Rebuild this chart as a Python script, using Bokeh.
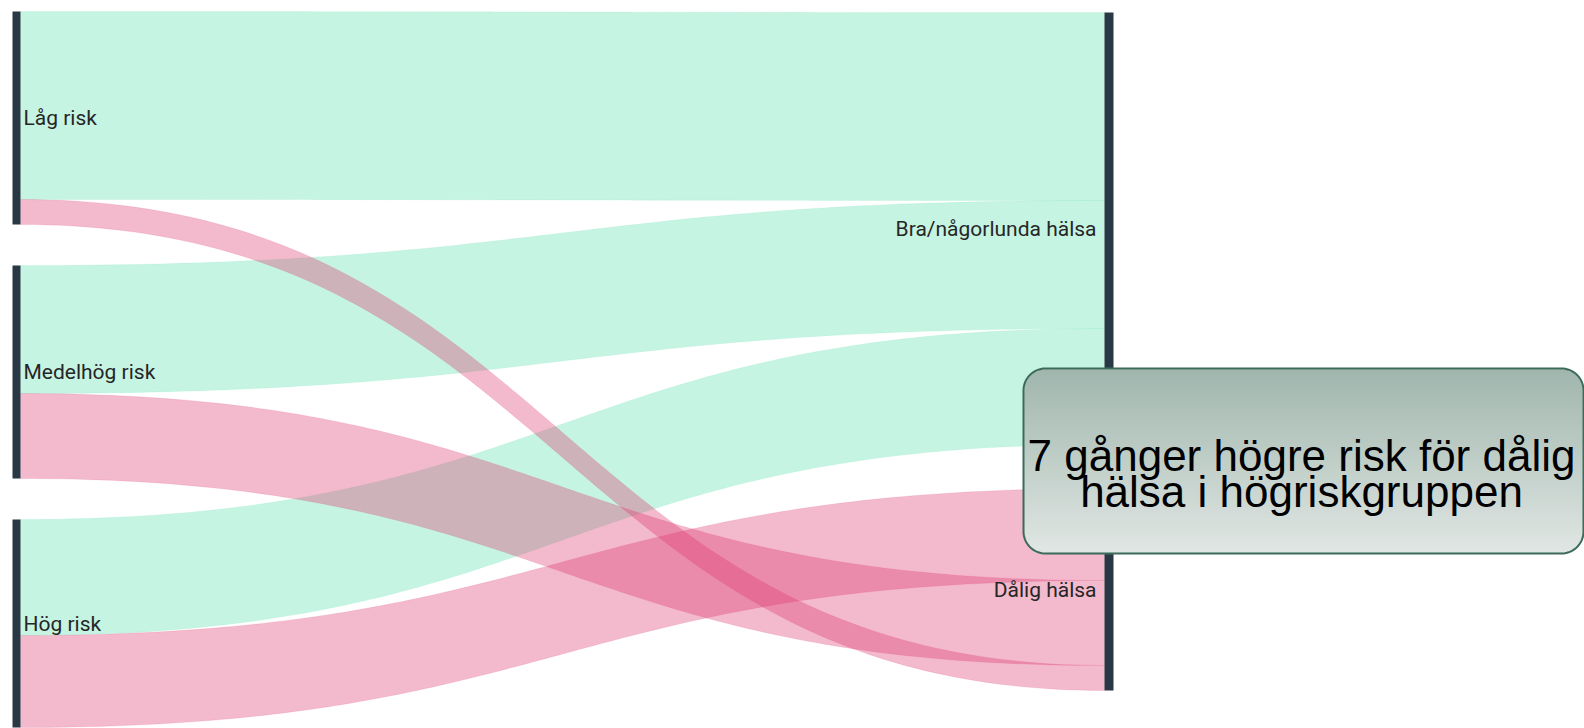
import numpy as np
from bokeh.plotting import figure
from bokeh.models import Range1d, ColumnDataSource
from bokeh.core.properties import value
from bokeh.embed import file_html
from bokeh.resources import INLINE

# ---------------- data ----------------
sources = ["Låg risk", "Medelhög risk", "Hög risk"]
targets = ["Bra/någorlunda hälsa", "Dålig hälsa"]
to_bra = [188, 128, 116]      # flow source -> Bra/någorlunda hälsa
to_dalig = [25, 85, 92]       # flow source -> Dålig hälsa
callout_lines = ["7 gånger högre risk för dålig", "hälsa i högriskgruppen"]

# ---------------- layout / style ----------------
W, H = 1584, 728
KY = 1.0
LEFT_X, LEFT_W = 12, 8
RIGHT_X, RIGHT_W = 1104, 9
LEFT_TOP, LEFT_GAP = 11, 41
RIGHT_TOP, RIGHT_GAP = 12, 44
DALIG_ORDER = [2, 1, 0]       # order of incoming links at "Dålig hälsa" (top -> bottom)
NODE_COLOR = "#283845"
GREEN = (92, 224, 175)
PINK = (221, 55, 109)
LINK_ALPHA = 0.35

p = figure(width=W, height=H, x_range=Range1d(0, W), y_range=Range1d(H, 0),
           x_axis_type=None, y_axis_type=None, min_border=0,
           toolbar_location=None, output_backend="svg")
p.grid.visible = False
p.outline_line_color = None
p.background_fill_color = "white"

# left node positions
left_nodes = []
y = LEFT_TOP
for b, d in zip(to_bra, to_dalig):
    h = (b + d) * KY
    left_nodes.append((y, y + h))
    y += h + LEFT_GAP

# right node positions
bra_total = sum(to_bra) * KY
dal_total = sum(to_dalig) * KY
bra_node = (RIGHT_TOP, RIGHT_TOP + bra_total)
dal_node = (bra_node[1] + RIGHT_GAP, bra_node[1] + RIGHT_GAP + dal_total)

# link endpoints
links_green, links_pink = [], []
bra_cursor = bra_node[0]
for i, b in enumerate(to_bra):
    s0 = left_nodes[i][0]
    links_green.append((s0, s0 + b * KY, bra_cursor, bra_cursor + b * KY))
    bra_cursor += b * KY
dal_start = {}
cur = dal_node[0]
for i in DALIG_ORDER:
    dal_start[i] = cur
    cur += to_dalig[i] * KY
for i, d in enumerate(to_dalig):
    s0 = left_nodes[i][0] + to_bra[i] * KY
    t0 = dal_start[i]
    links_pink.append((s0, s0 + d * KY, t0, t0 + d * KY))

x0 = LEFT_X + LEFT_W
x1 = RIGHT_X
xm = (x0 + x1) / 2
t = np.linspace(0, 1, 120)
bx = (1 - t) ** 3 * x0 + 3 * (1 - t) ** 2 * t * xm + 3 * (1 - t) * t ** 2 * xm + t ** 3 * x1


def by(ya, yb):
    return (1 - t) ** 3 * ya + 3 * (1 - t) ** 2 * t * ya + 3 * (1 - t) * t ** 2 * yb + t ** 3 * yb


def band(s0, s1, t0, t1):
    xs = np.concatenate([bx, bx[::-1]])
    ys = np.concatenate([by(s0, t0), by(s1, t1)[::-1]])
    return list(xs), list(ys)


def draw_links(links, rgb):
    xs, ys = [], []
    for (s0, s1, t0, t1) in links:
        a, b = band(s0, s1, t0, t1)
        xs.append(a)
        ys.append(b)
    col = "#%02x%02x%02x" % rgb
    p.patches(xs, ys, fill_color=col, fill_alpha=LINK_ALPHA,
              line_color=col, line_alpha=0.12, line_width=1)


draw_links(links_green, GREEN)
draw_links(links_pink, PINK)

# nodes
p.quad(left=[LEFT_X] * 3, right=[LEFT_X + LEFT_W] * 3,
       top=[n[0] for n in left_nodes], bottom=[n[1] for n in left_nodes],
       fill_color=NODE_COLOR, line_color=None)
p.quad(left=[RIGHT_X] * 2, right=[RIGHT_X + RIGHT_W] * 2,
       top=[bra_node[0], dal_node[0]], bottom=[bra_node[1], dal_node[1]],
       fill_color=NODE_COLOR, line_color=None)

# node labels
p.text(x=[LEFT_X + LEFT_W + 3] * 3, y=[(n[0] + n[1]) / 2 for n in left_nodes], text=sources,
       text_font=value("Roboto"), text_font_size="21px", text_color="#262626",
       text_baseline="middle", text_align="left")
p.text(x=[RIGHT_X - 8] * 2, y=[(bra_node[0] + bra_node[1]) / 2, (dal_node[0] + dal_node[1]) / 2],
       text=targets, text_font=value("Roboto"), text_font_size="21px", text_color="#262626",
       text_baseline="middle", text_align="right")

# callout box (rounded, vertical gradient)
CX0, CX1, CY0, CY1, R = 1023, 1583, 368, 553, 22
TOP_C = np.array([160, 182, 173])
BOT_C = np.array([225, 231, 228])

ang = np.linspace(0, np.pi / 2, 20)
ox = np.concatenate([
    CX0 + R - R * np.cos(ang),
    CX1 - R + R * np.sin(ang),
    CX1 - R + R * np.cos(ang),
    CX0 + R - R * np.sin(ang),
    [CX0]])
oy = np.concatenate([
    CY0 + R - R * np.sin(ang),
    CY0 + R - R * np.cos(ang),
    CY1 - R + R * np.sin(ang),
    CY1 - R + R * np.cos(ang),
    [CY0 + R]])

# opaque base so nothing shows through the box
p.patch(list(ox), list(oy), fill_color="#c3d0cb", fill_alpha=1.0, line_color=None)

STEP = 3
rows = np.arange(CY0, CY1, STEP)
lefts, rights, tops, bots, cols = [], [], [], [], []
for yy in rows:
    yc = yy + STEP / 2
    d = 0.0
    if yc - CY0 < R:
        d = R - (yc - CY0)
    elif CY1 - yc < R:
        d = R - (CY1 - yc)
    inset = R - np.sqrt(max(R * R - d * d, 0)) if d > 0 else 0.0
    f = (yc - CY0) / (CY1 - CY0)
    c = (TOP_C * (1 - f) + BOT_C * f).astype(int)
    lefts.append(CX0 + inset + 1)
    rights.append(CX1 - inset - 1)
    tops.append(max(yy, CY0 + 1))
    bots.append(min(yy + STEP + 1, CY1 - 1))
    cols.append("#%02x%02x%02x" % tuple(c))
p.quad(source=ColumnDataSource(dict(left=lefts, right=rights, top=tops, bottom=bots, c=cols)),
       left="left", right="right", top="top", bottom="bottom", fill_color="c",
       fill_alpha=1.0, line_color=None)

p.line(list(ox), list(oy), line_color="#3d6b5b", line_width=2)

p.text(x=[(CX0 + CX1) / 2 - 2] * 2, y=[455, 491], text=callout_lines,
       text_font=value("Liberation Sans"), text_font_size="44px", text_color="#000000",
       text_baseline="middle", text_align="center")

open("out.html", "w").write(file_html(p, INLINE))
